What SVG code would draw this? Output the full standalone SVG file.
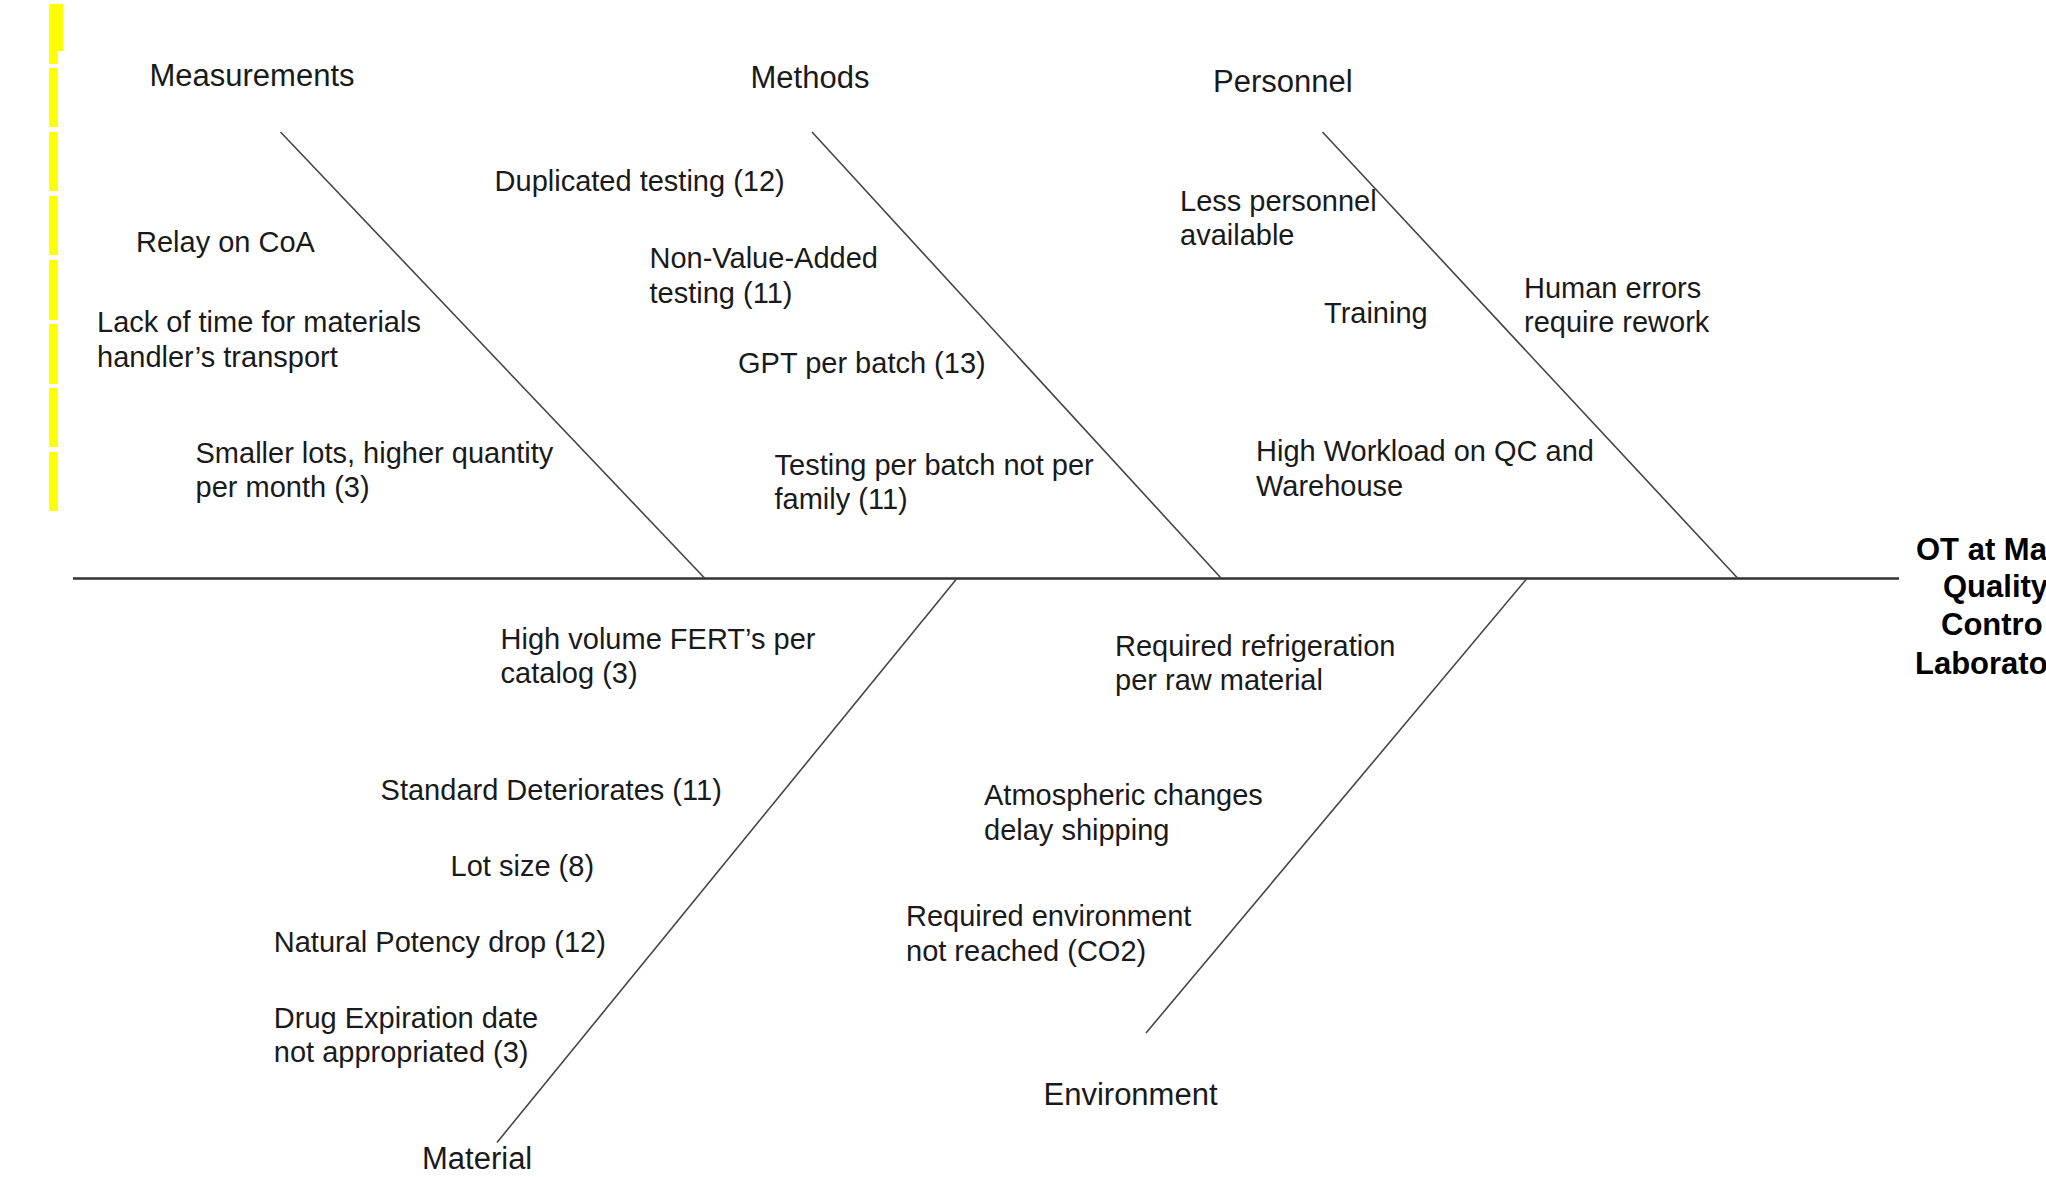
<svg xmlns="http://www.w3.org/2000/svg" width="2046" height="1177" viewBox="0 0 2046 1177">
<style>
  text { font-family: "Liberation Sans", Arial, sans-serif; fill: #1a1a1a; }
  .head { font-size: 31px; }
  .item { font-size: 29px; }
  .effect { font-size: 31px; font-weight: bold; fill: #000; }
  .bone { stroke: #454545; stroke-width: 1.6; fill: none; }
  .spine { stroke: #333; stroke-width: 2.6; fill: none; }
  .hl { fill: #ffff00; }
</style>
<rect x="0" y="0" width="2046" height="1177" fill="#ffffff"/>
<g id="highlight-bar">
  <rect class="hl" x="49" y="4" width="14" height="47"/>
  <rect class="hl" x="49" y="4" width="9" height="60"/>
  <rect class="hl" x="49" y="68" width="9" height="59"/>
  <rect class="hl" x="49" y="132" width="9" height="59"/>
  <rect class="hl" x="49" y="196" width="9" height="59"/>
  <rect class="hl" x="49" y="260" width="9" height="60"/>
  <rect class="hl" x="49" y="324" width="9" height="60"/>
  <rect class="hl" x="49" y="388" width="9" height="59"/>
  <rect class="hl" x="49" y="452" width="9" height="59"/>
</g>
<g id="connectors">
  <line class="spine" x1="73" y1="578.5" x2="1899" y2="578.5"/>
  <line class="bone" x1="280.5" y1="132" x2="704.5" y2="578"/>
  <line class="bone" x1="812" y1="132" x2="1221" y2="578"/>
  <line class="bone" x1="1322.5" y1="132" x2="1737.5" y2="578"/>
  <line class="bone" x1="956.5" y1="579" x2="497" y2="1142.5"/>
  <line class="bone" x1="1526.5" y1="579" x2="1146" y2="1033"/>
</g>
<g id="effect">
  <text class="effect" x="1916" y="560">OT at Ma</text>
  <text class="effect" x="1943" y="597">Quality</text>
  <text class="effect" x="1941" y="635">Contro</text>
  <text class="effect" x="1915" y="674">Laborato</text>
</g>
<g id="cat-measurements"><text class="head" x="149.5" y="86">Measurements</text></g>
<g id="cat-methods"><text class="head" x="750.5" y="87.5">Methods</text></g>
<g id="cat-personnel"><text class="head" x="1213" y="92">Personnel</text></g>
<g id="cat-material"><text class="head" x="422" y="1169">Material</text></g>
<g id="cat-environment"><text class="head" x="1043.5" y="1105">Environment</text></g>

<g id="cause-relay"><text class="item" x="136" y="252">Relay on CoA</text></g>
<g id="cause-lack-time"><text class="item" x="97" y="332">Lack of time for materials</text><text class="item" x="97" y="367">handler’s transport</text></g>
<g id="cause-smaller-lots"><text class="item" x="195.5" y="462.5">Smaller lots, higher quantity</text><text class="item" x="195.5" y="497">per month (3)</text></g>
<g id="cause-duplicated"><text class="item" x="494.6" y="191">Duplicated testing (12)</text></g>
<g id="cause-nva"><text class="item" x="649.5" y="268">Non-Value-Added</text><text class="item" x="649.5" y="303">testing (11)</text></g>
<g id="cause-gpt"><text class="item" x="738" y="373">GPT per batch (13)</text></g>
<g id="cause-testing-batch"><text class="item" x="774.5" y="475">Testing per batch not per</text><text class="item" x="774.5" y="509">family (11)</text></g>
<g id="cause-less-personnel"><text class="item" x="1180" y="210.5">Less personnel</text><text class="item" x="1180" y="244.5">available</text></g>
<g id="cause-training"><text class="item" x="1324" y="323">Training</text></g>
<g id="cause-human-errors"><text class="item" x="1524" y="298">Human errors</text><text class="item" x="1524" y="332">require rework</text></g>
<g id="cause-workload"><text class="item" x="1256" y="461">High Workload on QC and</text><text class="item" x="1256" y="496">Warehouse</text></g>
<g id="cause-high-volume"><text class="item" x="500.6" y="649">High volume FERT’s per</text><text class="item" x="500.6" y="683">catalog (3)</text></g>
<g id="cause-standard"><text class="item" x="380.6" y="800">Standard Deteriorates (11)</text></g>
<g id="cause-lot-size"><text class="item" x="450.6" y="876.4">Lot size (8)</text></g>
<g id="cause-potency"><text class="item" x="273.8" y="952">Natural Potency drop (12)</text></g>
<g id="cause-expiration"><text class="item" x="273.8" y="1027.5">Drug Expiration date</text><text class="item" x="273.8" y="1062">not appropriated (3)</text></g>
<g id="cause-refrigeration"><text class="item" x="1115" y="656">Required refrigeration</text><text class="item" x="1115" y="690">per raw material</text></g>
<g id="cause-atmospheric"><text class="item" x="984" y="805">Atmospheric changes</text><text class="item" x="984" y="839.5">delay shipping</text></g>
<g id="cause-environment"><text class="item" x="906" y="926">Required environment</text><text class="item" x="906" y="960.5">not reached (CO2)</text></g>
</svg>
